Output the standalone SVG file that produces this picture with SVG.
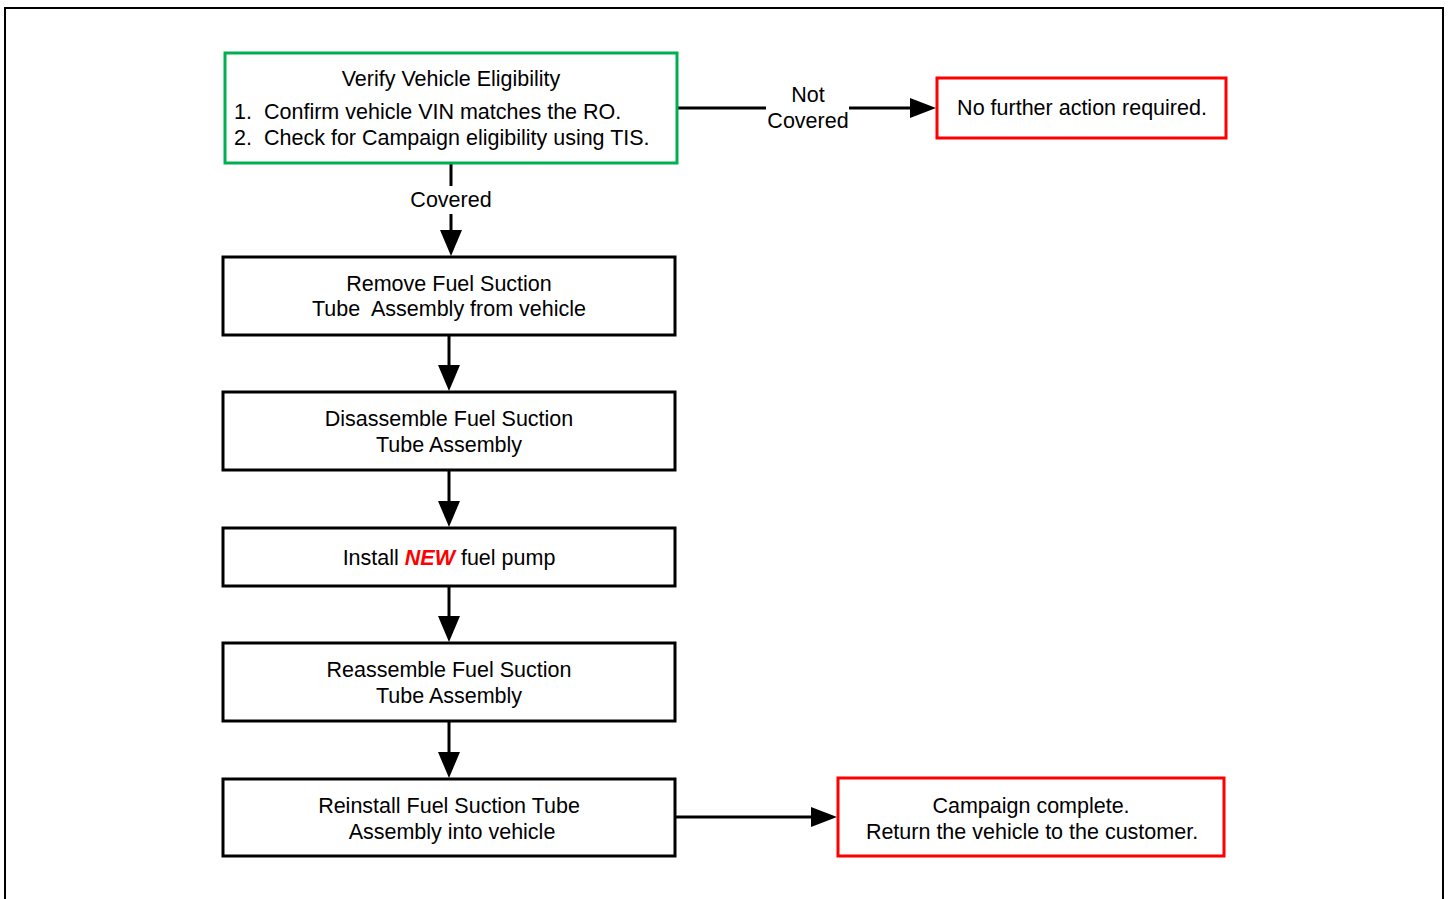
<svg xmlns="http://www.w3.org/2000/svg" width="1449" height="899" viewBox="0 0 1449 899">
<style>
text{font-family:"Liberation Sans",Arial,sans-serif;font-size:21.5px;fill:#000}
.c{text-anchor:middle}
.box{fill:#fff;stroke:#000;stroke-width:3}
.red{fill:#fff;stroke:#f00;stroke-width:3}
.green{fill:#fff;stroke:#00b050;stroke-width:3}
.line{stroke:#000;stroke-width:3;fill:none}
</style>
<rect width="1449" height="899" fill="#fff"/>
<path d="M5,899 V8 H1443 V899" fill="none" stroke="#000" stroke-width="2"/>
<g id="connectors">
<path class="line" d="M451,164 V186 M451,214 V252" />
<path d="M440,230 L451,256 L462,230 z" fill="#000"/>
<text class="c" x="451" y="207">Covered</text>
<path class="line" d="M678,108 H766 M849,108 H912"/>
<path d="M910,98 L936,108 L910,118 z" fill="#000"/>
<text class="c" x="808" y="102">Not</text>
<text class="c" x="808" y="128">Covered</text>
<path class="line" d="M449,336 V366"/>
<path d="M438,365 L449,391 L460,365 z" fill="#000"/>
<path class="line" d="M449,471 V502"/>
<path d="M438,501 L449,527 L460,501 z" fill="#000"/>
<path class="line" d="M449,587 V617"/>
<path d="M438,616 L449,642 L460,616 z" fill="#000"/>
<path class="line" d="M449,722 V753"/>
<path d="M438,752 L449,778 L460,752 z" fill="#000"/>
<path class="line" d="M676,817 H812"/>
<path d="M811,807 L837,817 L811,827 z" fill="#000"/>
</g>
<g id="verify">
<rect class="green" x="225" y="53" width="452" height="110"/>
<text class="c" x="451" y="86">Verify Vehicle Eligibility</text>
<text x="234" y="119">1.</text>
<text x="264" y="119">Confirm vehicle VIN matches the RO.</text>
<text x="234" y="145">2.</text>
<text x="264" y="145">Check for Campaign eligibility using TIS.</text>
</g>
<g id="nofurther">
<rect class="red" x="937" y="78" width="289" height="60"/>
<text class="c" x="1082" y="115">No further action required.</text>
</g>
<g id="remove">
<rect class="box" x="223" y="257" width="452" height="78"/>
<text class="c" x="449" y="291">Remove Fuel Suction</text>
<text class="c" x="449" y="316">Tube&#160; Assembly from vehicle</text>
</g>
<g id="disassemble">
<rect class="box" x="223" y="392" width="452" height="78"/>
<text class="c" x="449" y="426">Disassemble Fuel Suction</text>
<text class="c" x="449" y="452">Tube Assembly</text>
</g>
<g id="install">
<rect class="box" x="223" y="528" width="452" height="58"/>
<text class="c" x="449" y="565">Install <tspan fill="#f00" font-weight="bold" font-style="italic">NEW</tspan> fuel pump</text>
</g>
<g id="reassemble">
<rect class="box" x="223" y="643" width="452" height="78"/>
<text class="c" x="449" y="677">Reassemble Fuel Suction</text>
<text class="c" x="449" y="703">Tube Assembly</text>
</g>
<g id="reinstall">
<rect class="box" x="223" y="779" width="452" height="77"/>
<text class="c" x="449" y="813">Reinstall Fuel Suction Tube</text>
<text class="c" x="452" y="839">Assembly into vehicle</text>
</g>
<g id="complete">
<rect class="red" x="838" y="778" width="386" height="78"/>
<text class="c" x="1031" y="813">Campaign complete.</text>
<text class="c" x="1032" y="839">Return the vehicle to the customer.</text>
</g>
</svg>
